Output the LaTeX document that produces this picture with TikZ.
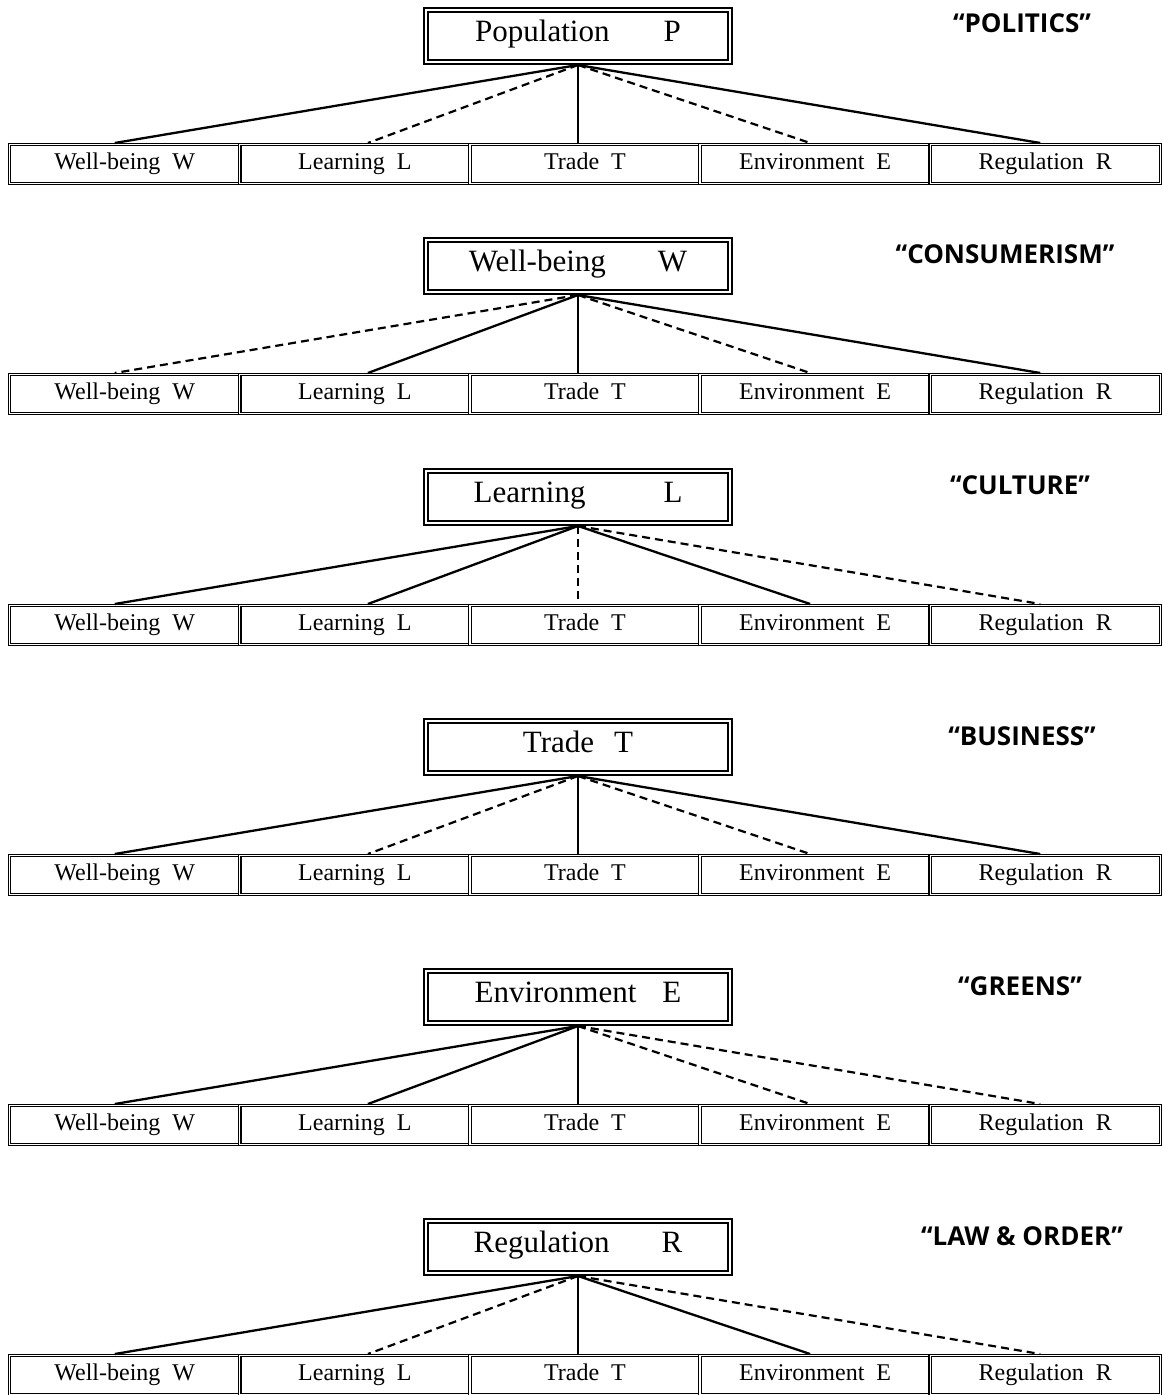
\documentclass[tikz,border=0pt]{standalone}
\usepackage{fontspec}
\setmainfont{Liberation Serif}
\newfontfamily\labfont{Open Sans}
\usetikzlibrary{calc}
\tikzset{
  topbox/.style={draw, double, line width=0.8pt, double distance=1.2pt,
    minimum width=152.2pt, minimum height=26.2pt, inner sep=0pt, outer sep=1.4pt,
    text height=1.6ex, text depth=0.4ex,
    font=\fontsize{15.5}{18}\selectfont},
  rowbox/.style={draw, double, line width=0.55pt, double distance=0.6pt,
    minimum width=115.06pt, minimum height=19.3pt, inner sep=0pt, outer sep=0.85pt,
    text height=1.6ex, text depth=0.3ex,
    font=\fontsize{12}{14}\selectfont},
  tag/.style={font=\labfont\bfseries\fontsize{13}{15}\selectfont},
  sl/.style={line width=1.15pt},
  dl/.style={line width=1.1pt, dash pattern=on 4pt off 2.5pt},
  vl/.style={line width=0.75pt},
  dvl/.style={line width=0.85pt, dash pattern=on 4pt off 2.5pt},
}
\newcommand\mypanel[8]{%
  \node[topbox] (#1t) at (578,#2) {#3};
  \node[rowbox] (#1w) at (124.76,{#2+128}) {Well-being\hspace{6pt}W};
  \node[rowbox] (#1l) at (354.88,{#2+128}) {Learning\hspace{6pt}L};
  \node[rowbox] (#1r0) at (585.0,{#2+128}) {Trade\hspace{6pt}T};
  \node[rowbox] (#1e) at (815.12,{#2+128}) {Environment\hspace{6pt}E};
  \node[rowbox] (#1r) at (1045.24,{#2+128}) {Regulation\hspace{6pt}R};
  \draw[#4] (#1t.south) -- ($(#1w.north)+(-10,0)$);
  \draw[#5] (#1t.south) -- ($(#1l.north)+(13,0)$);
  \draw[#6] (#1t.south) -- (#1t.south |- #1r0.north);
  \draw[#7] (#1t.south) -- ($(#1e.north)+(-5,0)$);
  \draw[#8] (#1t.south) -- ($(#1r.north)+(-5,0)$);
}
\begin{document}
\begin{tikzpicture}[x=0.5pt,y=-0.5pt]
\useasboundingbox (0,0) rectangle (1163,1395);
\mypanel{a}{36}{Population\hspace{27pt}P}{sl}{dl}{vl}{dl}{sl}
\mypanel{b}{266}{Well-being\hspace{26pt}W}{dl}{sl}{vl}{dl}{sl}
\mypanel{c}{497}{Learning\hspace{39pt}L}{sl}{sl}{dvl}{sl}{dl}
\mypanel{d}{747}{Trade\hspace{10pt}T}{sl}{dl}{vl}{dl}{sl}
\mypanel{e}{997}{Environment\hspace{13pt}E}{sl}{sl}{vl}{dl}{dl}
\mypanel{f}{1247}{Regulation\hspace{26pt}R}{sl}{dl}{vl}{sl}{dl}
\node[tag] (ta) at (1022,23) {“POLITICS”};
\node[tag] (tb) at (1005,254) {“CONSUMERISM”};
\node[tag] (tc) at (1020,485) {“CULTURE”};
\node[tag] (td) at (1022,736) {“BUSINESS”};
\node[tag] (te) at (1020,986) {“GREENS”};
\node[tag] (tf) at (1022,1236) {“LAW \& ORDER”};
\end{tikzpicture}
\end{document}
